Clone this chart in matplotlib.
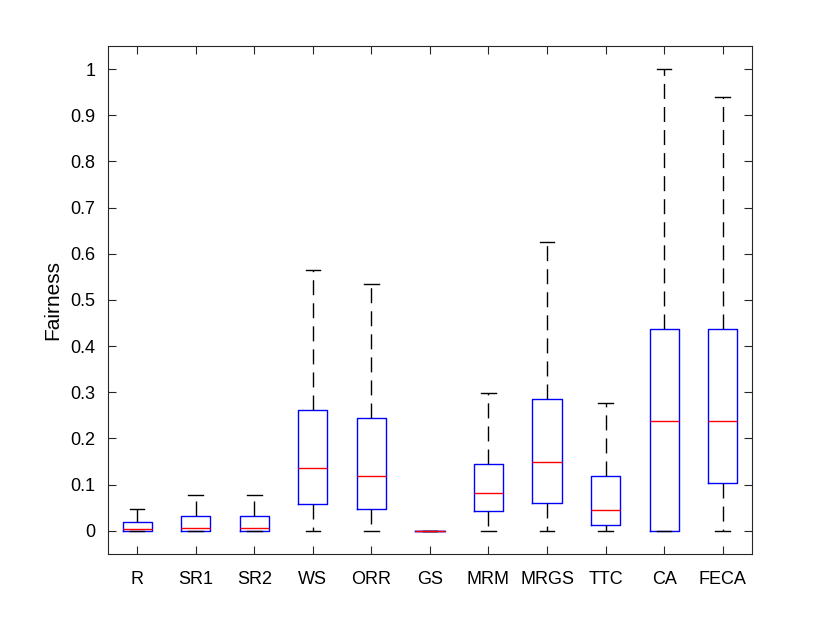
import matplotlib.pyplot as plt

plt.rcParams['font.family'] = ['Liberation Sans', 'DejaVu Sans']

# ---------------------------------------------------------------------------
methods = ['R', 'SR1', 'SR2', 'WS', 'ORR', 'GS', 'MRM', 'MRGS', 'TTC', 'CA', 'FECA']
whislo = [0, 0, 0, 0, 0, 0, 0, 0, 0, 0, 0]
q1 = [0, 0, 0, 0.058, 0.047, 0, 0.042, 0.060, 0.013, 0, 0.104]
med = [0.003, 0.006, 0.006, 0.136, 0.118, 0, 0.082, 0.149, 0.045, 0.238, 0.238]
q3 = [0.019, 0.031, 0.031, 0.262, 0.245, 0, 0.144, 0.286, 0.118, 0.438, 0.438]
whishi = [0.048, 0.078, 0.078, 0.565, 0.535, 0, 0.299, 0.626, 0.276, 1.0, 0.939]

stats = []
for i in range(len(methods)):
    stats.append({'label': methods[i], 'whislo': whislo[i], 'q1': q1[i], 'med': med[i],
                  'q3': q3[i], 'whishi': whishi[i], 'fliers': []})

fig = plt.figure(figsize=(8.3, 6.23), dpi=100)
ax = fig.add_axes([0.13, 0.111, 0.776, 0.815])

ax.bxp(stats, positions=range(1, len(methods) + 1), widths=0.5, showfliers=False,
       boxprops=dict(color='#0000ff', linewidth=1),
       medianprops=dict(color='#ff0000', linewidth=1, zorder=5),
       whiskerprops=dict(color='black', linewidth=1, linestyle=(0, (10.8, 5.8))),
       capprops=dict(color='black', linewidth=1),
       capwidths=0.25)

ax.set_xlim(0.5, len(methods) + 0.5)
ax.set_ylim(-0.05, 1.05)
ax.set_yticks([0, 0.1, 0.2, 0.3, 0.4, 0.5, 0.6, 0.7, 0.8, 0.9, 1])
ax.set_yticklabels(['0', '0.1', '0.2', '0.3', '0.4', '0.5', '0.6', '0.7', '0.8', '0.9', '1'])
ax.set_xticks(range(1, len(methods) + 1))
ax.set_xticklabels(methods)
ax.set_ylabel('Fairness', fontsize=15, labelpad=6)

ax.tick_params(direction='in', length=6, width=0.8, color='#262626',
               top=True, right=True, labelsize=13)
ax.tick_params(axis='x', pad=12)
ax.tick_params(axis='y', pad=9)
for s in ax.spines.values():
    s.set_color('#262626')
    s.set_linewidth(0.8)

plt.savefig('out.png', dpi=100)
